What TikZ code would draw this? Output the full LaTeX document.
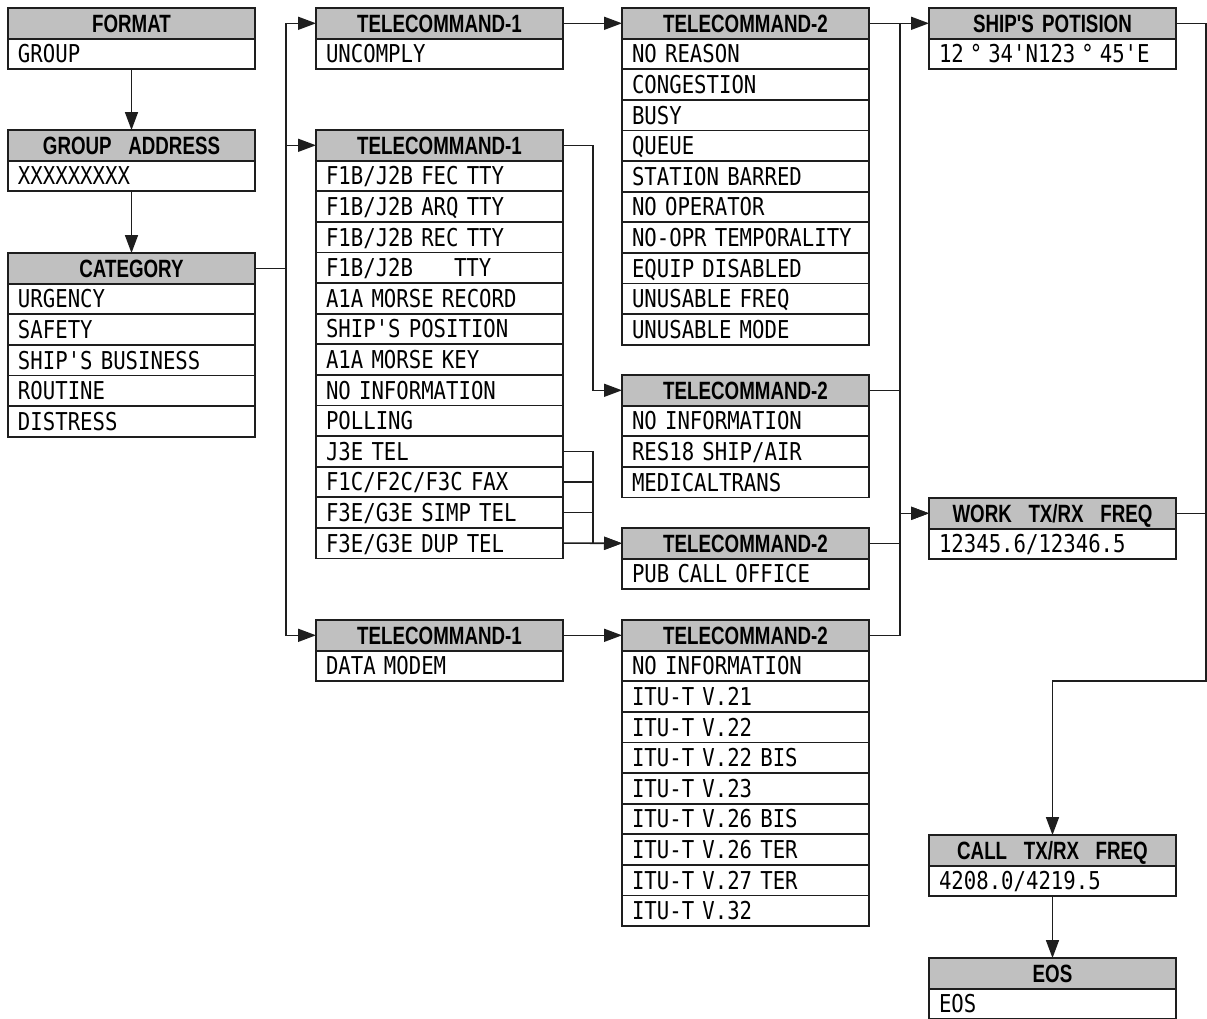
\documentclass[tikz,border=0pt]{standalone}
\usepackage{fontspec}
\usepackage{tikz}
\usetikzlibrary{arrows.meta,positioning}
\newfontfamily\hdfont{Liberation Sans}[FakeStretch=0.75,Ligatures=TeXOff]
\newfontfamily\rwfont{DejaVu Sans Mono}[FakeStretch=0.84,Ligatures=TeXOff]
\definecolor{hdfill}{HTML}{C0C0C0}
\definecolor{edgec}{HTML}{1E1E1E}
\tikzset{
  hd/.style={draw=edgec,line width=0.9pt,fill=hdfill,outer sep=0pt,inner xsep=0pt,inner ysep=0pt,text width=123.5pt,align=center,minimum height=15.3pt,text height=9pt,text depth=0pt,font=\hdfont\bfseries\fontsize{12.5}{14}\selectfont},
  rw/.style={draw=edgec,line width=0.9pt,fill=white,outer sep=0pt,inner xsep=5pt,inner ysep=0pt,text width=113.5pt,align=left,minimum height=15.3pt,text height=9pt,text depth=0pt,font=\rwfont\fontsize{12.3}{14}\selectfont},
  ar/.style={-{Triangle[length=9pt,width=6.5pt]},line width=0.8pt,edgec},
  ln/.style={line width=0.8pt,edgec}
}
\begin{document}
\begin{tikzpicture}[x=0.5pt,y=-0.5pt]
\path[use as bounding box,fill=white] (0,0) rectangle (1207,1019);
\node[hd,anchor=north west] (fmt0) at (8,8) {FORMAT};
\node[rw,below=0pt of fmt0] (fmt1) {GROUP};
\node[hd,anchor=north west] (gad0) at (8,130) {GROUP~~ADDRESS};
\node[rw,below=0pt of gad0] (gad1) {XXXXXXXXX};
\node[hd,anchor=north west] (cat0) at (8,253) {CATEGORY};
\foreach \t [count=\i,remember=\i as \j (initially 0)] in {URGENCY,SAFETY,SHIP'S BUSINESS,ROUTINE,DISTRESS}
  \node[rw,below=0pt of cat\j] (cat\i) {\t};
\node[hd,anchor=north west] (tca0) at (316,8) {TELECOMMAND-1};
\node[rw,below=0pt of tca0] (tca1) {UNCOMPLY};
\node[hd,anchor=north west] (tcb0) at (316,130) {TELECOMMAND-1};
\foreach \t [count=\i,remember=\i as \j (initially 0)] in {F1B/J2B FEC TTY,F1B/J2B ARQ TTY,F1B/J2B REC TTY,F1B/J2B~~~~~TTY,A1A MORSE RECORD,SHIP'S POSITION,A1A MORSE KEY,NO INFORMATION,POLLING,J3E TEL,F1C/F2C/F3C FAX,F3E/G3E SIMP TEL,F3E/G3E DUP TEL}
  \node[rw,below=0pt of tcb\j] (tcb\i) {\t};
\node[hd,anchor=north west] (tcc0) at (316,620) {TELECOMMAND-1};
\node[rw,below=0pt of tcc0] (tcc1) {DATA MODEM};
\node[hd,anchor=north west] (tda0) at (622,8) {TELECOMMAND-2};
\foreach \t [count=\i,remember=\i as \j (initially 0)] in {NO REASON,CONGESTION,BUSY,QUEUE,STATION BARRED,NO OPERATOR,NO-OPR TEMPORALITY,EQUIP DISABLED,UNUSABLE FREQ,UNUSABLE MODE}
  \node[rw,below=0pt of tda\j] (tda\i) {\t};
\node[hd,anchor=north west] (tdb0) at (622,375) {TELECOMMAND-2};
\foreach \t [count=\i,remember=\i as \j (initially 0)] in {NO INFORMATION,RES18 SHIP/AIR,MEDICALTRANS}
  \node[rw,below=0pt of tdb\j] (tdb\i) {\t};
\node[hd,anchor=north west] (tdc0) at (622,528) {TELECOMMAND-2};
\node[rw,below=0pt of tdc0] (tdc1) {PUB CALL OFFICE};
\node[hd,anchor=north west] (tdd0) at (622,620) {TELECOMMAND-2};
\foreach \t [count=\i,remember=\i as \j (initially 0)] in {NO INFORMATION,ITU-T V.21,ITU-T V.22,ITU-T V.22 BIS,ITU-T V.23,ITU-T V.26 BIS,ITU-T V.26 TER,ITU-T V.27 TER,ITU-T V.32}
  \node[rw,below=0pt of tdd\j] (tdd\i) {\t};
\node[hd,anchor=north west] (pos0) at (929,8) {SHIP'S POTISION};
\node[rw,below=0pt of pos0] (pos1) {12\kern3pt°\kern3pt34'N123\kern3pt°\kern3pt45'E};
\node[hd,anchor=north west] (wrk0) at (929,498) {WORK~~TX/RX~~FREQ};
\node[rw,below=0pt of wrk0] (wrk1) {12345.6/12346.5};
\node[hd,anchor=north west] (cal0) at (929,835) {CALL~~TX/RX~~FREQ};
\node[rw,below=0pt of cal0] (cal1) {4208.0/4219.5};
\node[hd,anchor=north west] (eos0) at (929,958) {EOS};
\node[rw,below=0pt of eos0] (eos1) {EOS};
\coordinate (turn) at (cal0.north |- tcc1.south);
\draw[ar] (fmt1.south) -- (gad0.north);
\draw[ar] (gad1.south) -- (cat0.north);
\draw[ar] (cat0.east) -- ++(31,0) |- (tca0.west);
\draw[ar] (cat0.east) -- ++(31,0) |- (tcb0.west);
\draw[ar] (cat0.east) -- ++(31,0) |- (tcc0.west);
\draw[ar] (tca0.east) -- (tda0.west);
\draw[ar] (tcb0.east) -- ++(30,0) |- (tdb0.west);
\draw[ar] (tcb10.east) -- ++(30,0) |- (tdc0.west);
\draw[ln] (tcb11.east) -- ++(30,0);
\draw[ln] (tcb12.east) -- ++(30,0);
\draw[ar] (tcb13.east) -- (tdc0.west);
\draw[ar] (tcc0.east) -- (tdd0.west);
\draw[ar] (tda0.east) -- (pos0.west);
\draw[ar] (tda0.east) -- ++(31,0) |- (wrk0.west);
\draw[ar] (tdd0.east) -- ++(31,0) |- (wrk0.west);
\draw[ln] (tdb0.east) -- ++(31,0);
\draw[ln] (tdc0.east) -- ++(31,0);
\draw[ar] (pos0.east) -- ++(30,0) |- (turn) -- (cal0.north);
\draw[ln] (wrk0.east) -- ++(30,0);
\draw[ar] (cal1.south) -- (eos0.north);
\end{tikzpicture}
\end{document}
